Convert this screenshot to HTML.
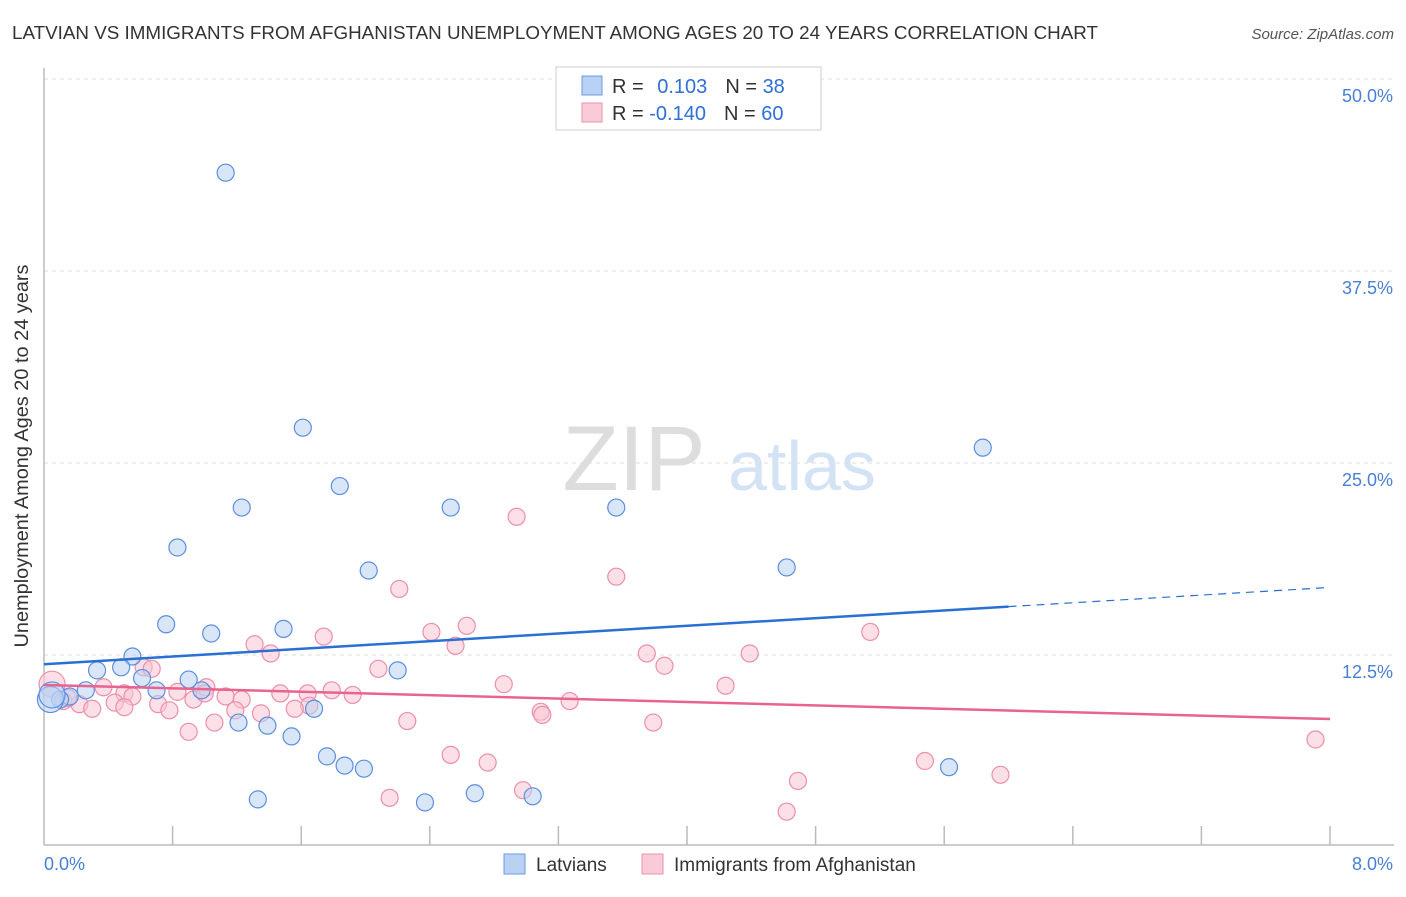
<!DOCTYPE html>
<html><head><meta charset="utf-8"><style>
body{margin:0;background:#fff;font-family:"Liberation Sans",sans-serif}
svg text{font-family:"Liberation Sans",sans-serif}
</style></head><body>
<svg width="1406" height="892" viewBox="0 0 1406 892">
<text x="12" y="39" font-size="18.5" fill="#333" textLength="1086" lengthAdjust="spacingAndGlyphs">LATVIAN VS IMMIGRANTS FROM AFGHANISTAN UNEMPLOYMENT AMONG AGES 20 TO 24 YEARS CORRELATION CHART</text>
<text x="1394" y="39" font-size="15" fill="#555" font-style="italic" text-anchor="end">Source: ZipAtlas.com</text>
<g id="grid"></g>
<g>
<text x="634" y="490" font-size="92" fill="#ddd" font-family="Liberation Serif" text-anchor="middle">ZIP</text>
<text x="802" y="490" font-size="70" fill="#d4e2f5" text-anchor="middle">atlas</text>
</g>
<line x1="44" y1="68" x2="44" y2="845" stroke="#bbb" stroke-width="1.5"/>
<line x1="44" y1="845" x2="1394" y2="845" stroke="#bbb" stroke-width="1.5"/>
<g id="ticks"></g>
<g id="pts"></g>
<g id="lines"></g>
<text x="28" y="456" font-size="19" fill="#333" text-anchor="middle" textLength="383" lengthAdjust="spacingAndGlyphs" transform="rotate(-90 28 456)">Unemployment Among Ages 20 to 24 years</text>
<text x="44" y="870" font-size="18" fill="#4a7fd4">0.0%</text>
<text x="1393" y="870" font-size="18" fill="#4a7fd4" text-anchor="end">8.0%</text>
<g>
<rect x="556" y="67" width="265" height="63" fill="#fff" stroke="#ccc"/>
<rect x="582" y="76" width="20" height="19" fill="#b9d2f3" stroke="#6b9be0"/>
<rect x="582" y="103" width="20" height="19" fill="#f9cad8" stroke="#ec90ac"/>
<text x="612" y="93" font-size="20" fill="#333">R = <tspan fill="#2f6fd6" dx="8">0.103</tspan><tspan dx="18" fill="#333">N = </tspan><tspan fill="#2f6fd6">38</tspan></text>
<text x="612" y="120" font-size="20" fill="#333">R = <tspan fill="#2f6fd6">-0.140</tspan><tspan dx="18" fill="#333">N = </tspan><tspan fill="#2f6fd6">60</tspan></text>
</g>
<g>
<rect x="504" y="854" width="21" height="20" fill="#b9d2f3" stroke="#6b9be0"/>
<text x="536" y="871" font-size="19" fill="#333">Latvians</text>
<rect x="642" y="854" width="21" height="20" fill="#f9cad8" stroke="#ec90ac"/>
<text x="674" y="871" font-size="19" fill="#333">Immigrants from Afghanistan</text>
</g>
</svg>
<script>
const yTicks=[12.5,25,37.5,50];
const yTickLabels=["12.5%","25.0%","37.5%","50.0%"];
const xTicks=[0.8,1.6,2.4,3.2,4.0,4.8,5.6,6.4,7.2,8.0];
const latX=[1.13,1.61,1.84,1.23,2.53,3.56,5.84,0.83,2.02,4.62,0.76,1.04,1.49,0.55,0.33,0.48,0.61,2.20,0.90,0.70,0.98,0.26,0.16,0.10,0.04,1.68,1.21,1.39,1.54,1.76,1.87,1.99,5.63,2.68,3.04,1.33,2.37,0.05];
const latY=[43.9,27.3,23.5,22.1,22.1,22.1,26.0,19.5,18.0,18.2,14.5,13.9,14.2,12.4,11.5,11.7,11.0,11.5,10.9,10.2,10.2,10.2,9.8,9.6,9.6,9.0,8.1,7.9,7.2,5.9,5.3,5.1,5.2,3.5,3.3,3.1,2.9,9.9];
const afgX=[2.94,3.56,2.21,2.63,2.41,1.74,5.14,1.31,2.56,1.41,3.75,4.39,3.86,0.62,0.67,2.08,2.86,4.24,0.05,0.37,1.01,1.79,0.83,0.50,1.47,1.64,1.92,1.13,0.55,0.93,1.23,3.27,0.44,0.12,0.22,0.71,1.65,0.50,1.56,0.78,1.19,1.35,3.09,3.10,2.26,3.79,1.06,0.90,2.53,2.76,5.48,5.95,7.91,4.69,2.98,2.15,4.62,0.30,0.15,1.00];
const afgY=[21.5,17.6,16.8,14.4,14.0,13.7,14.0,13.2,13.1,12.6,12.6,12.6,11.8,11.7,11.6,11.6,10.6,10.5,10.6,10.4,10.4,10.2,10.1,10.0,10.0,10.0,9.9,9.8,9.8,9.6,9.6,9.5,9.4,9.5,9.3,9.3,9.2,9.1,9.0,8.9,8.9,8.7,8.8,8.6,8.2,8.1,8.1,7.5,6.0,5.5,5.6,4.7,7.0,4.3,3.7,3.2,2.3,9.0,9.7,10.0];
const latTrend=[11.9,16.9];
const afgTrend=[10.55,8.33];
const NS="http://www.w3.org/2000/svg";
const xs=v=>44+v/8*1286, ys=v=>847-v*15.36;
function mk(t,a,p){const e=document.createElementNS(NS,t);for(const k in a)e.setAttribute(k,a[k]);p.appendChild(e);return e;}
const grid=document.getElementById('grid');
yTicks.forEach((t,i)=>{
 const l=mk('line',{x1:44,x2:1394,y1:ys(t),y2:ys(t),stroke:'#ddd','stroke-dasharray':'4,4'},grid);
 
 
 const tx=mk('text',{x:1393,y:ys(t)+23,'font-size':18,fill:'#4a7fd4','text-anchor':'end'},grid);
 tx.textContent=yTickLabels[i];
 
 
});
const tk=document.getElementById('ticks');
xTicks.forEach(t=>{const l=mk('line',{x1:xs(t),x2:xs(t),y1:826,y2:845,stroke:'#bbb','stroke-width':1.5},tk);
 
 });
const pts=document.getElementById('pts');
function dots(X,Y,fill,stroke,name){X.forEach((x,i)=>{const big=x<0.08;
 const c=mk('circle',{cx:xs(x),cy:ys(Y[i]),r:big?13:8.5,fill:fill,'fill-opacity':0.55,stroke:stroke,'stroke-width':1.2},pts);
 
 });}
dots(afgX,afgY,'#f9c4d4','#ec8fab','afghanistan-point');
dots(latX,latY,'#b9d2f3','#5b8fe0','latvian-point');
const ln=document.getElementById('lines');
const bl=v=>latTrend[0]+(latTrend[1]-latTrend[0])*v/8;
let a=mk('line',{x1:xs(0),y1:ys(bl(0)),x2:xs(6),y2:ys(bl(6)),stroke:'#2a6fd4','stroke-width':2.5},ln);


a=mk('line',{x1:xs(6),y1:ys(bl(6)),x2:xs(8),y2:ys(bl(8)),stroke:'#2a6fd4','stroke-width':1.2,'stroke-dasharray':'8,6'},ln);


a=mk('line',{x1:xs(0),y1:ys(afgTrend[0]),x2:xs(8),y2:ys(afgTrend[1]),stroke:'#e8648f','stroke-width':2.5},ln);


</script>
</body></html>
